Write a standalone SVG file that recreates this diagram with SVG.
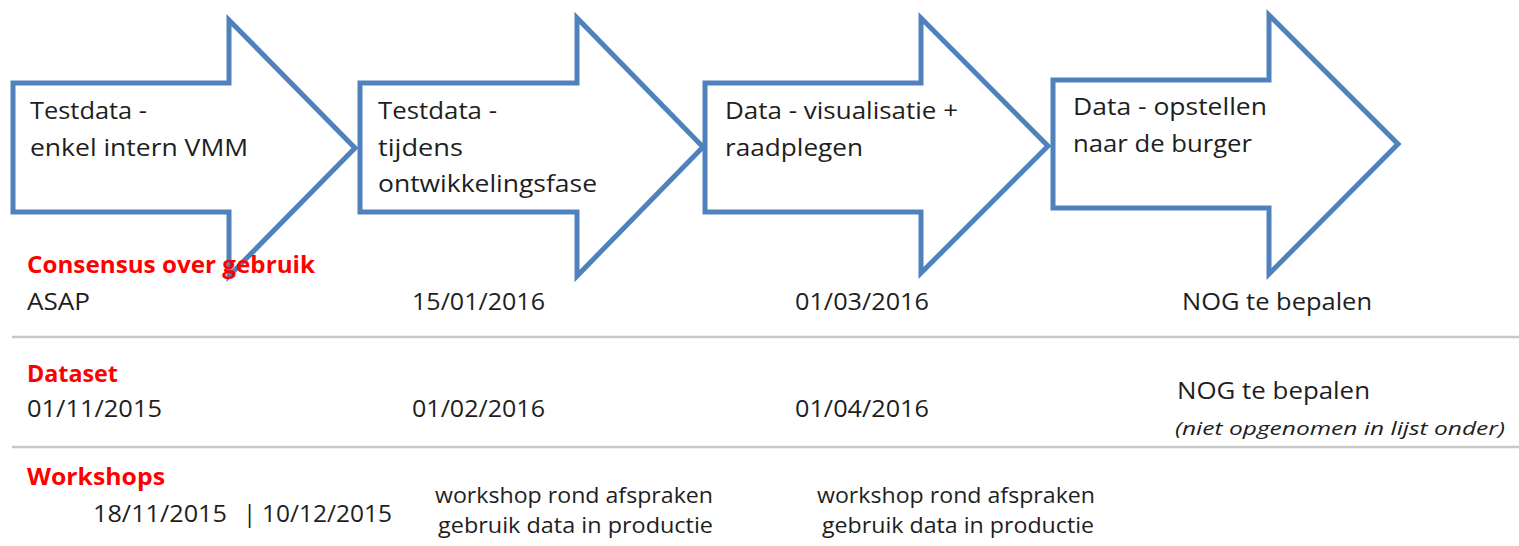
<svg xmlns="http://www.w3.org/2000/svg" width="1519" height="546" viewBox="0 0 1519 546">
<style>
.arrow{fill:#ffffff;stroke:#4f81bd;stroke-width:5;stroke-linejoin:miter}
.t{font-family:"Open Sans","Liberation Sans",sans-serif;font-size:24px;fill:#1e1e1e}
.s{font-family:"Open Sans","Liberation Sans",sans-serif;font-size:21px;fill:#1e1e1e}
.h{font-family:"Open Sans","Liberation Sans",sans-serif;font-size:23px;font-weight:bold;fill:#ff0000}
.i{font-family:"Open Sans","Liberation Sans",sans-serif;font-size:19px;font-style:italic;fill:#1e1e1e}
.sep{stroke:#c8c8c8;stroke-width:2.5}
</style>
<g id="arrow1">
<polygon class="arrow" points="13,83 229,83 229,20 355,148 229,276 229,212 13,212"/>
<text class="t" x="30" y="119" textLength="117" lengthAdjust="spacingAndGlyphs">Testdata -</text>
<text class="t" x="30" y="156" textLength="218" lengthAdjust="spacingAndGlyphs">enkel intern VMM</text>
</g>
<g id="arrow2">
<polygon class="arrow" points="360,83 577,83 577,18 703,147 577,276 577,212 360,212"/>
<text class="t" x="378" y="119" textLength="119" lengthAdjust="spacingAndGlyphs">Testdata -</text>
<text class="t" x="378" y="156" textLength="85" lengthAdjust="spacingAndGlyphs">tijdens</text>
<text class="t" x="378" y="192" textLength="219" lengthAdjust="spacingAndGlyphs">ontwikkelingsfase</text>
</g>
<g id="arrow3">
<polygon class="arrow" points="705,83 921,83 921,18 1048,146 921,273 921,212 705,212"/>
<text class="t" x="725" y="119" textLength="233" lengthAdjust="spacingAndGlyphs">Data - visualisatie +</text>
<text class="t" x="725" y="156" textLength="138" lengthAdjust="spacingAndGlyphs">raadplegen</text>
</g>
<g id="arrow4">
<polygon class="arrow" points="1053,80 1269,80 1269,15 1398,144 1269,274 1269,208 1053,208"/>
<text class="t" x="1073" y="115" textLength="194" lengthAdjust="spacingAndGlyphs">Data - opstellen</text>
<text class="t" x="1073" y="152" textLength="179" lengthAdjust="spacingAndGlyphs">naar de burger</text>
</g>
<g id="separators">
<line class="sep" x1="12" y1="337" x2="1519" y2="337"/>
<line class="sep" x1="12" y1="447" x2="1519" y2="447"/>
</g>
<g id="row-consensus">
<text class="h" x="27" y="273" textLength="288" lengthAdjust="spacingAndGlyphs">Consensus over gebruik</text>
<text class="t" x="27" y="310" textLength="63" lengthAdjust="spacingAndGlyphs">ASAP</text>
<text class="t" x="412" y="310" textLength="133" lengthAdjust="spacingAndGlyphs">15/01/2016</text>
<text class="t" x="795" y="310" textLength="134" lengthAdjust="spacingAndGlyphs">01/03/2016</text>
<text class="t" x="1182" y="310" textLength="190" lengthAdjust="spacingAndGlyphs">NOG te bepalen</text>
</g>
<g id="row-dataset">
<text class="h" x="27" y="382" textLength="91" lengthAdjust="spacingAndGlyphs">Dataset</text>
<text class="t" x="27" y="417" textLength="135" lengthAdjust="spacingAndGlyphs">01/11/2015</text>
<text class="t" x="412" y="417" textLength="133" lengthAdjust="spacingAndGlyphs">01/02/2016</text>
<text class="t" x="795" y="417" textLength="134" lengthAdjust="spacingAndGlyphs">01/04/2016</text>
<text class="t" x="1177" y="399" textLength="193" lengthAdjust="spacingAndGlyphs">NOG te bepalen</text>
<text class="i" x="1175" y="435" textLength="330" lengthAdjust="spacingAndGlyphs">(niet opgenomen in lijst onder)</text>
</g>
<g id="row-workshops">
<text class="h" x="27" y="485" textLength="138" lengthAdjust="spacingAndGlyphs">Workshops</text>
<text class="t" y="522"><tspan x="93" textLength="134" lengthAdjust="spacingAndGlyphs">18/11/2015</tspan><tspan x="243">|</tspan><tspan x="262" textLength="130" lengthAdjust="spacingAndGlyphs">10/12/2015</tspan></text>
<text class="s" x="435" y="503" textLength="278" lengthAdjust="spacingAndGlyphs">workshop rond afspraken</text>
<text class="s" x="438" y="533" textLength="275" lengthAdjust="spacingAndGlyphs">gebruik data in productie</text>
<text class="s" x="817" y="503" textLength="278" lengthAdjust="spacingAndGlyphs">workshop rond afspraken</text>
<text class="s" x="822" y="533" textLength="272" lengthAdjust="spacingAndGlyphs">gebruik data in productie</text>
</g>
</svg>
